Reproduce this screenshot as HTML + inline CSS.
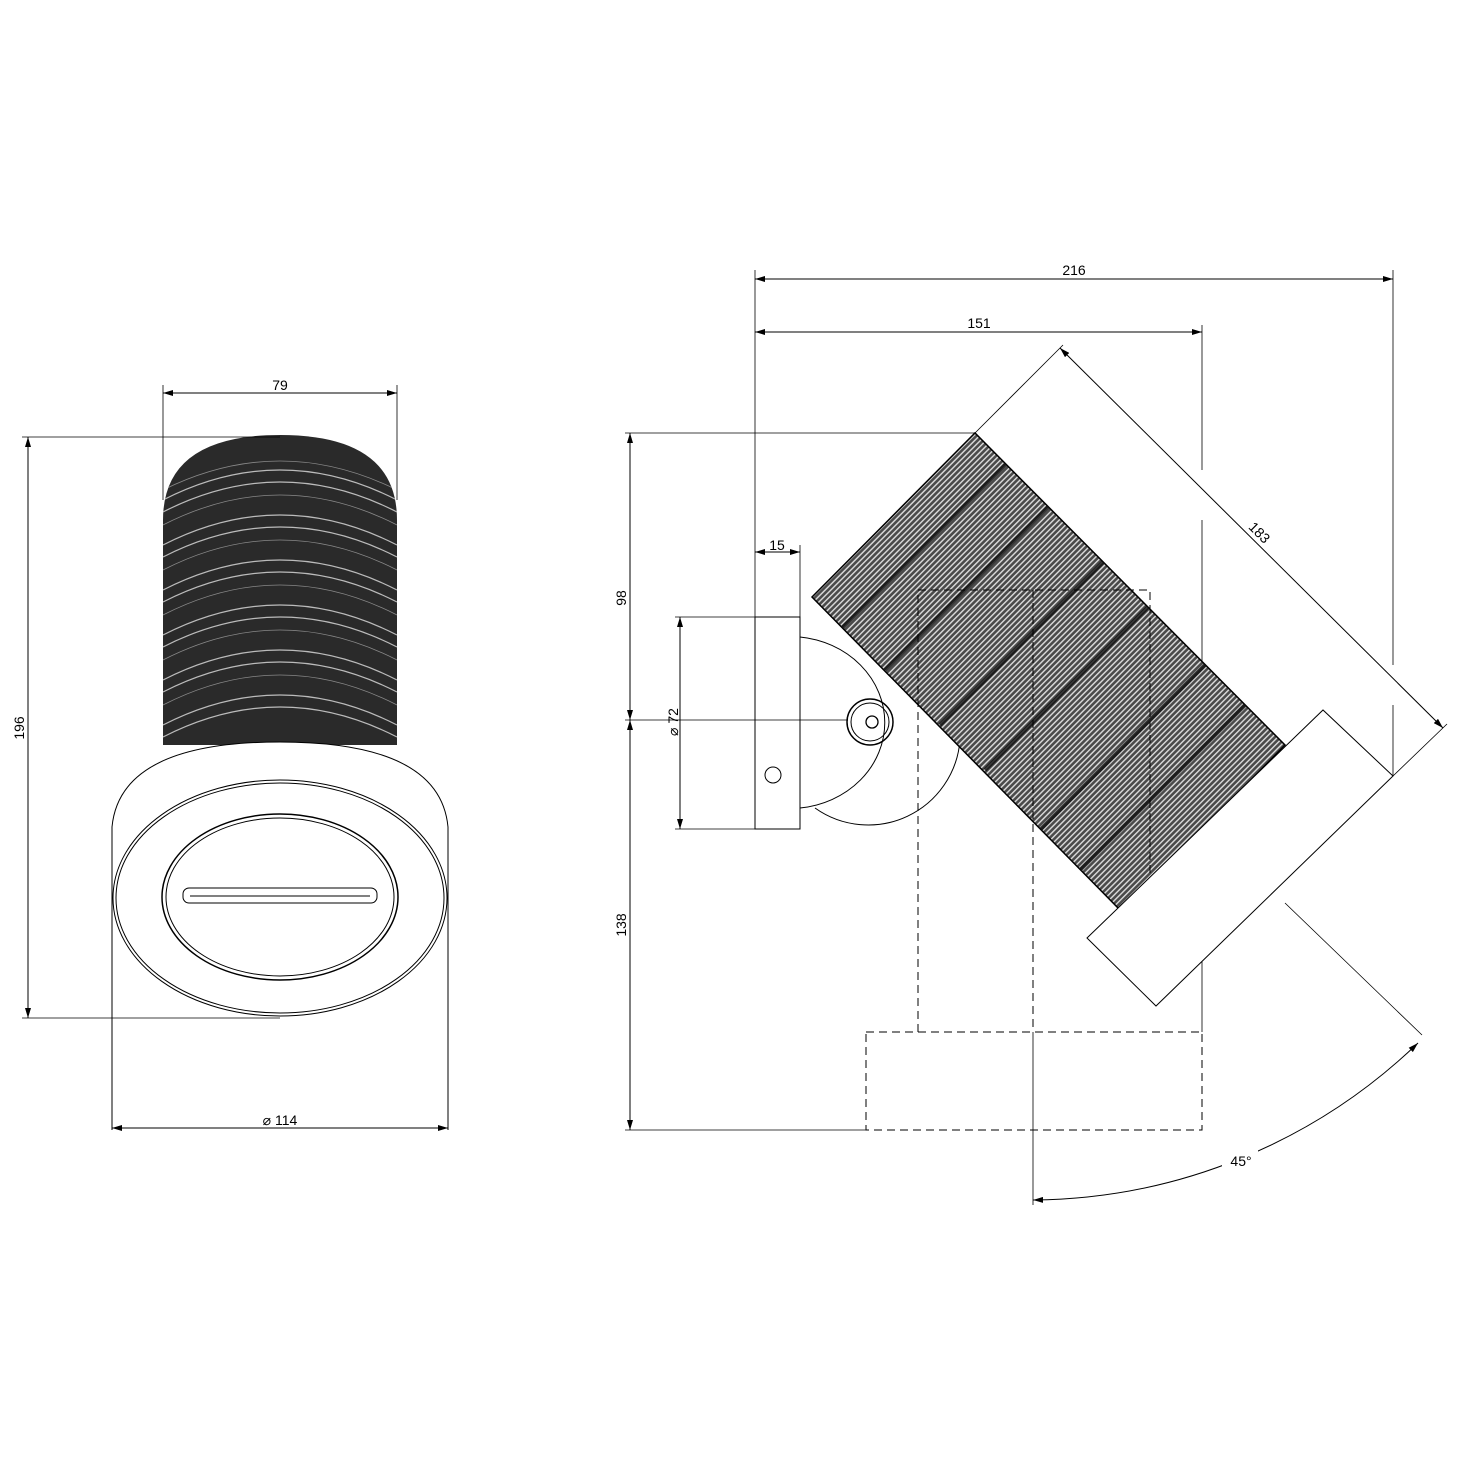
<!DOCTYPE html>
<html><head><meta charset="utf-8"><style>
html,body{margin:0;padding:0;background:#fff;}
svg{display:block;}
text{font-family:"Liberation Sans",sans-serif;font-size:14px;fill:#000;}
</style></head><body>
<svg width="1471" height="1471" viewBox="0 0 1471 1471" xmlns="http://www.w3.org/2000/svg">
<defs>
<marker id="a" viewBox="0 0 10 6" refX="10" refY="3" markerWidth="10" markerHeight="6" orient="auto-start-reverse" markerUnits="userSpaceOnUse"><path d="M0,0L10,3L0,6z" fill="#000"/></marker>
<pattern id="h" width="4" height="4" patternUnits="userSpaceOnUse" patternTransform="rotate(-45)">
<rect width="4" height="4" fill="#4a4a4a"/><rect width="4" height="1.4" fill="#ddd"/></pattern>
<clipPath id="cl"><path d="M163,745 L163,520 Q163,435 280,435 Q397,435 397,520 L397,745 Z"/></clipPath>
<clipPath id="cr"><path d="M812,597 L975,433 L1285,745 L1122,912 Z"/></clipPath>
</defs>
<g fill="none" stroke="#000" stroke-width="1">

<!-- LEFT VIEW -->
<g clip-path="url(#cl)">
<rect x="160" y="430" width="240" height="320" fill="#2a2a2a" stroke="none"/>
<g stroke="#bbb" stroke-width="1.2">
<path d="M163,500 Q280,440 397,500"/><path d="M163,512 Q280,452 397,512"/>
<path d="M163,545 Q280,485 397,545"/><path d="M163,557 Q280,497 397,557"/>
<path d="M163,590 Q280,530 397,590"/><path d="M163,602 Q280,542 397,602"/>
<path d="M163,635 Q280,575 397,635"/><path d="M163,647 Q280,587 397,647"/>
<path d="M163,680 Q280,620 397,680"/><path d="M163,692 Q280,632 397,692"/>
<path d="M163,725 Q280,665 397,725"/><path d="M163,737 Q280,677 397,737"/>
</g>
<g stroke="#888" stroke-width="0.8">
<path d="M163,490 Q280,432 397,490"/><path d="M163,525 Q280,465 397,525"/>
<path d="M163,570 Q280,510 397,570"/><path d="M163,615 Q280,555 397,615"/>
<path d="M163,660 Q280,600 397,660"/><path d="M163,705 Q280,645 397,705"/>
</g>
</g>
<path d="M112,827 Q120,742 280,742 Q440,742 448,827 L448,1130 M112,827 L112,1130" fill="#fff"/>
<ellipse cx="280" cy="898" rx="167" ry="118"/>
<ellipse cx="280" cy="898" rx="164" ry="115"/>
<ellipse cx="280" cy="897" rx="118" ry="83" stroke-width="1.5"/>
<ellipse cx="280" cy="897" rx="114" ry="79"/>
<rect x="183" y="888" width="194" height="15" rx="6"/>
<line x1="190" y1="896" x2="370" y2="896"/>
<!-- dims left -->
<line x1="163" y1="385" x2="163" y2="500" stroke-width="0.8"/>
<line x1="397" y1="385" x2="397" y2="500" stroke-width="0.8"/>
<line x1="163" y1="393" x2="397" y2="393" marker-start="url(#a)" marker-end="url(#a)"/>
<line x1="22" y1="437" x2="280" y2="437" stroke-width="0.8"/>
<line x1="22" y1="1018" x2="280" y2="1018" stroke-width="0.8"/>
<line x1="28" y1="437" x2="28" y2="1018" marker-start="url(#a)" marker-end="url(#a)"/>
<line x1="112" y1="1128" x2="448" y2="1128" marker-start="url(#a)" marker-end="url(#a)"/>

<!-- RIGHT VIEW dims -->
<line x1="755" y1="270" x2="755" y2="617" stroke-width="0.8"/>
<line x1="1393" y1="270" x2="1393" y2="665" stroke-width="0.8"/>
<line x1="1393" y1="705" x2="1393" y2="776" stroke-width="0.8"/>
<line x1="1202" y1="325" x2="1202" y2="470" stroke-width="0.8"/>
<line x1="1202" y1="520" x2="1202" y2="1032" stroke-width="0.8"/>
<line x1="755" y1="279" x2="1393" y2="279" marker-start="url(#a)" marker-end="url(#a)"/>
<line x1="755" y1="332" x2="1202" y2="332" marker-start="url(#a)" marker-end="url(#a)"/>
<line x1="800" y1="545" x2="800" y2="617" stroke-width="0.8"/>
<line x1="755" y1="552" x2="800" y2="552" marker-start="url(#a)" marker-end="url(#a)"/>
<line x1="625" y1="433" x2="975" y2="433" stroke-width="0.8"/>
<line x1="625" y1="1130" x2="866" y2="1130" stroke-width="0.8"/>
<line x1="630" y1="433" x2="630" y2="720" marker-start="url(#a)" marker-end="url(#a)"/>
<line x1="630" y1="720" x2="630" y2="1130" marker-start="url(#a)" marker-end="url(#a)"/>
<line x1="675" y1="617" x2="755" y2="617" stroke-width="0.8"/>
<line x1="675" y1="829" x2="755" y2="829" stroke-width="0.8"/>
<line x1="680" y1="617" x2="680" y2="829" marker-start="url(#a)" marker-end="url(#a)"/>
<line x1="625" y1="720" x2="870" y2="720" stroke-width="0.8"/>

<!-- mount -->
<path d="M960,740 A92,92 0 0 1 815,808"/>
<path d="M800,637 A95,86 0 0 1 800,808" fill="#fff"/>
<rect x="755" y="617" width="45" height="212" fill="#fff"/>
<circle cx="773" cy="775" r="8"/>
<circle cx="870" cy="722" r="23" stroke-width="1.5"/>
<circle cx="870" cy="722" r="19"/>
<circle cx="872" cy="722" r="6" stroke-width="1.3"/>
<line x1="755" y1="720" x2="848" y2="720" stroke-width="0.8"/>

<!-- cylinder -->
<path d="M812,597 L975,433 L1285,745 L1122,912 Z" fill="url(#h)" stroke="#000" stroke-width="1.5"/>
<g clip-path="url(#cr)" stroke="#111" stroke-width="4" opacity="0.8">
<line x1="840" y1="630" x2="1030" y2="440"/>
<line x1="885" y1="670" x2="1075" y2="480"/>
<line x1="940" y1="725" x2="1130" y2="535"/>
<line x1="985" y1="770" x2="1175" y2="580"/>
<line x1="1040" y1="830" x2="1230" y2="640"/>
<line x1="1080" y1="870" x2="1270" y2="680"/>
</g>
<!-- dashed -->
<g stroke-dasharray="8,5" stroke-width="1">
<polyline points="918,1032 918,590 1150,590 1150,900"/>
<line x1="1033" y1="590" x2="1033" y2="1032"/>
<rect x="866" y="1032" width="336" height="98"/>
</g>
<line x1="1033" y1="1032" x2="1033" y2="1205" stroke-width="0.8"/>
<path d="M1087,938 L1323,710 L1393,776 L1156,1006 Z" fill="#fff"/>
<!-- 183 -->
<line x1="975" y1="433" x2="1063" y2="345" stroke-width="0.8"/>
<line x1="1393" y1="776" x2="1447" y2="724" stroke-width="0.8"/>
<line x1="1060" y1="348" x2="1443" y2="728" marker-start="url(#a)" marker-end="url(#a)"/>
<!-- 45 -->
<line x1="1285" y1="903" x2="1422" y2="1035" stroke-width="0.8"/>
<path d="M1418,1043 A561,561 0 0 1 1033,1200" marker-start="url(#a)" marker-end="url(#a)"/>
</g>
<rect x="1222" y="1148" width="36" height="22" fill="#fff"/>
<text x="280" y="390" text-anchor="middle">79</text>
<text transform="translate(24,728) rotate(-90)" text-anchor="middle">196</text>
<text x="280" y="1125" text-anchor="middle">⌀ 114</text>
<text x="1074" y="275" text-anchor="middle">216</text>
<text x="979" y="328" text-anchor="middle">151</text>
<text x="777" y="550" text-anchor="middle">15</text>
<text transform="translate(626,598) rotate(-90)" text-anchor="middle">98</text>
<text transform="translate(626,925) rotate(-90)" text-anchor="middle">138</text>
<text transform="translate(678,722) rotate(-90)" text-anchor="middle">⌀ 72</text>
<text transform="translate(1256,536) rotate(45)" text-anchor="middle">183</text>
<text x="1241" y="1166" text-anchor="middle">45°</text>
</svg>
</body></html>
